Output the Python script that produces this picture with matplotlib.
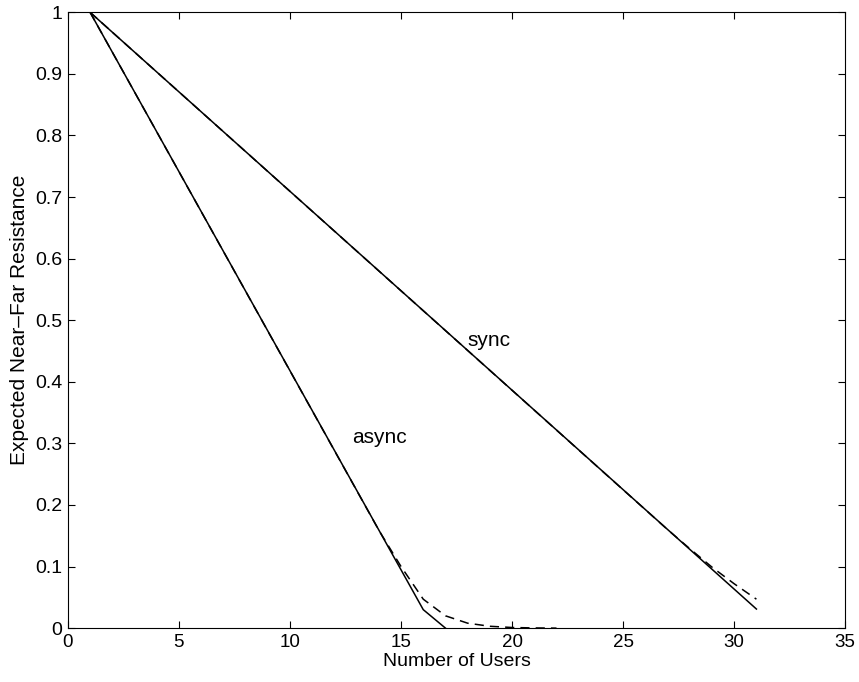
import matplotlib
matplotlib.use('Agg')
import matplotlib.pyplot as plt

plt.rcParams['font.family'] = ['Liberation Sans', 'DejaVu Sans']

# sync: solid and dashed curves
sync_x = [1, 31]
sync_y = [1.0, 0.031]
sync_d_x = [1, 27, 28, 29, 30, 31]
sync_d_y = [1.0, 0.16, 0.129, 0.099, 0.072, 0.047]

# async: solid and dashed curves
async_x = [1, 16, 17]
async_y = [1.0, 0.03, 0.0]
async_d_x = [1, 14, 15, 16, 17, 18, 19, 20, 21, 22]
async_d_y = [1.0, 0.159, 0.1, 0.047, 0.02, 0.008, 0.003, 0.001, 0.0003, 0.0]

fig = plt.figure(figsize=(8.59, 6.82), dpi=100)
ax = fig.add_axes([0.079, 0.079, 0.905, 0.903])

ax.plot(sync_d_x, sync_d_y, 'k--', lw=1.1, dashes=(6, 4))
ax.plot(async_d_x, async_d_y, 'k--', lw=1.1, dashes=(6, 4))
ax.plot(sync_x, sync_y, 'k-', lw=1.1)
ax.plot(async_x, async_y, 'k-', lw=1.1)

ax.text(18.0, 0.467, 'sync', fontsize=15, va='center')
ax.text(12.8, 0.31, 'async', fontsize=15, va='center')

ax.set_xlim(0, 35)
ax.set_ylim(0, 1)
ax.set_xticks(range(0, 36, 5))
ax.set_yticks([i / 10 for i in range(11)])
ax.set_yticklabels(['0', '0.1', '0.2', '0.3', '0.4', '0.5', '0.6', '0.7', '0.8', '0.9', '1'])
ax.tick_params(direction='in', top=True, right=True, length=5)
ax.tick_params(axis='y', labelsize=14, pad=4)
ax.tick_params(axis='x', labelsize=13.5, pad=4)
ax.set_xlabel('Number of Users', fontsize=14, labelpad=2)
ax.set_ylabel('Expected Near\u2013Far Resistance', fontsize=15, labelpad=4)

fig.savefig('out.png', dpi=100)
